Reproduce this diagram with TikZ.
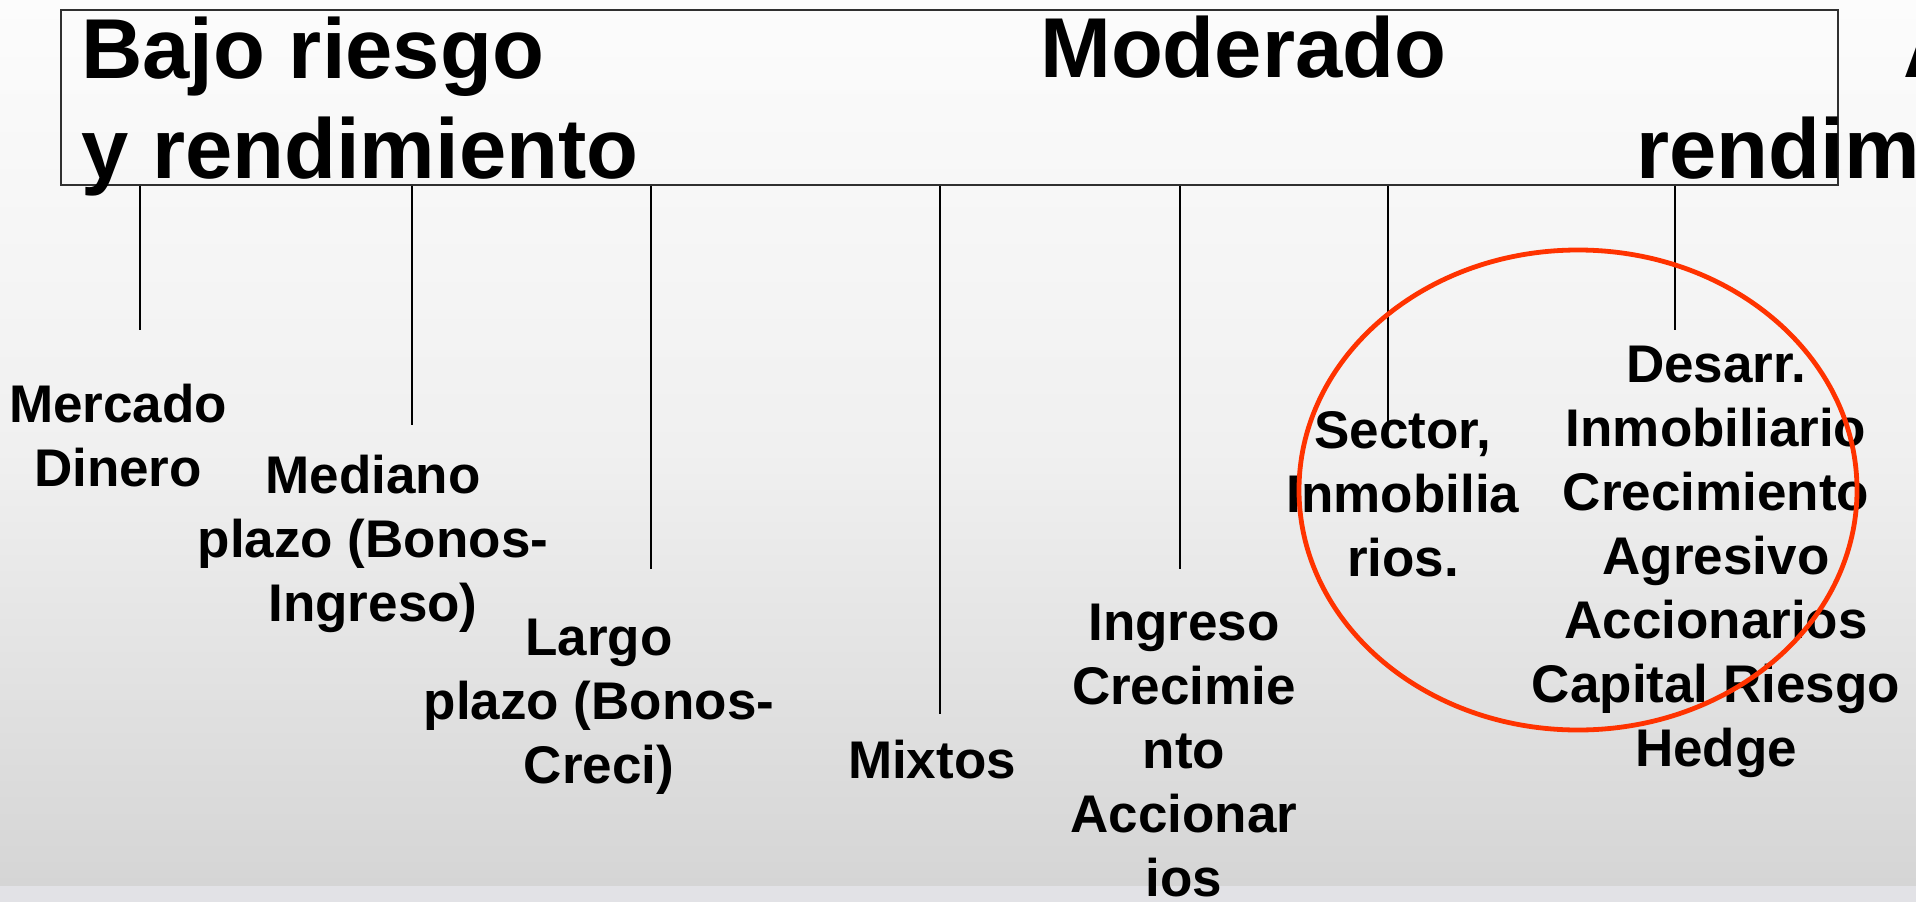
\documentclass[tikz,border=0pt]{standalone}
\usepackage{fontspec}
\setmainfont{Liberation Sans}
\usetikzlibrary{positioning}

\definecolor{rojo}{HTML}{FF3300}
\definecolor{marco}{HTML}{303030}
\definecolor{fondoA}{HTML}{FCFCFC}
\definecolor{fondoB}{HTML}{F0F0F0}
\definecolor{fondoC}{HTML}{D5D5D5}
\definecolor{fondoD}{HTML}{E2E2E6}

\begin{document}
\begin{tikzpicture}[
  x=1pt, y=-1pt,
  titulo/.style={font=\fontsize{85}{100}\selectfont\bfseries, inner sep=0, align=left},
  etiqueta/.style={font=\fontsize{53}{64}\selectfont\bfseries, inner sep=0, align=center, anchor=north},
  rama/.style={line width=1.8pt}
]
\useasboundingbox (0,0) rectangle (1916,902);
\clip (0,0) rectangle (1916,902);
% fondo
\fill[top color=fondoA, bottom color=fondoB] (0,0) rectangle (1916,450);
\fill[top color=fondoB, bottom color=fondoC] (0,449) rectangle (1916,886);
\fill[fondoD] (0,886) rectangle (1916,902);

% escala de riesgo
\node[draw=marco, line width=2.2pt, minimum width=1777pt, minimum height=175pt, inner sep=0, anchor=north west] (rango) at (60,9) {};
\node[titulo, anchor=north west] (bajo) at (81,17) {Bajo riesgo\\y rendimiento};
\node[titulo, anchor=base west] (moderado) at (1040,77) {Moderado};
\node[titulo, anchor=base west] (alto) at (1903,77) {Alto};
\node[titulo, anchor=base west] (altoR) at (1636,178) {rendimiento};

% fondos
\node[etiqueta] (mercado) at (118,384) {Mercado\\Dinero};
\node[etiqueta] (mediano) at (373,455) {Mediano\\plazo (Bonos-\\Ingreso)};
\node[etiqueta] (largo) at (599,619) {Largo\\plazo (Bonos-\\Creci)};
\node[etiqueta] (mixtos) at (932,740) {Mixtos};
\node[etiqueta] (ingreso) at (1184,604) {Ingreso\\Crecimie\\nto\\Accionar\\ios};
\node[etiqueta] (sector) at (1403,411) {Sector,\\Inmobilia\\rios.};
\node[etiqueta] (desarr) at (1716,346) {Desarr.\\Inmobiliario\\Crecimiento\\Agresivo\\Accionarios\\Capital Riesgo\\Hedge};

\coordinate (fin1) at (140,330);
\coordinate (fin2) at (412,425);
\coordinate (fin3) at (651,569);
\coordinate (fin4) at (940,714);
\coordinate (fin5) at (1180,569);
\coordinate (fin6) at (1388,425);
\coordinate (fin7) at (1675,330);
\foreach \i in {1,...,7}
  \draw[rama] (rango.south -| fin\i) -- (fin\i);

\draw[rojo, line width=4.8pt] (1578,490) ellipse [x radius=279pt, y radius=240pt];
\end{tikzpicture}
\end{document}
